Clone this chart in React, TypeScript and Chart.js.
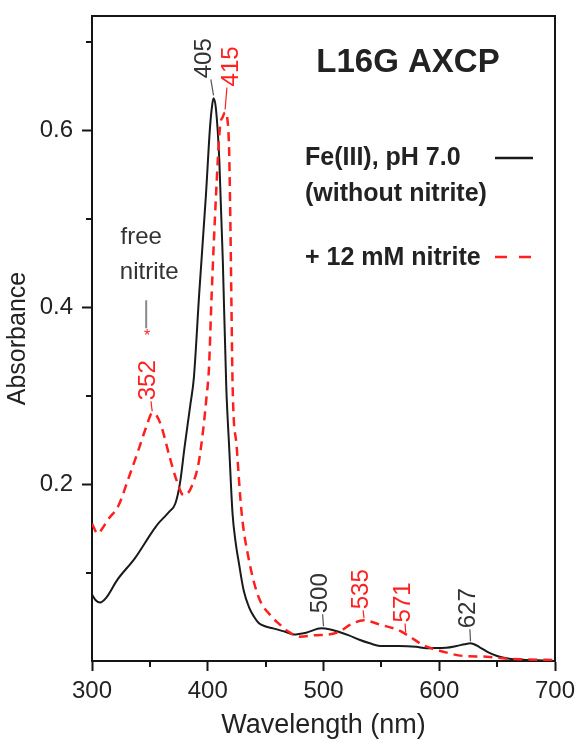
import React, { useEffect, useRef } from 'react';
import { Chart, registerables } from 'chart.js';

Chart.register(...registerables);

const FONT = '"Liberation Sans", Arial, sans-serif';
const AXIS = '#151515';
const TEXT = '#222222';
const RED = '#ff1f1f';
const BLACK = '#1a1a1a';

// Fe(III), pH 7.0 (without nitrite)
const blackWavelengths = [300, 303, 307, 312, 322, 337, 352, 357, 362, 367, 372, 376, 380, 385, 388, 392.6, 398.5, 402, 404, 405, 407, 410, 413, 416, 418.5, 421.4, 424, 427, 431, 435.6, 440, 444, 450, 456, 467, 474, 485, 498, 505, 513, 522, 531, 540, 549, 565, 580, 589, 600, 606, 615, 622, 627, 635, 642, 650, 658, 664, 681, 700];
const blackAbsorbance = [0.075, 0.069, 0.066, 0.071, 0.092, 0.116, 0.146, 0.155, 0.162, 0.169, 0.178, 0.201, 0.242, 0.29, 0.32, 0.415, 0.528, 0.604, 0.63, 0.636, 0.625, 0.566, 0.453, 0.31, 0.242, 0.167, 0.135, 0.11, 0.08, 0.061, 0.05, 0.043, 0.039, 0.037, 0.033, 0.03, 0.032, 0.037, 0.036, 0.033, 0.029, 0.024, 0.02, 0.017, 0.017, 0.016, 0.0143, 0.0148, 0.015, 0.017, 0.019, 0.02, 0.0155, 0.01, 0.0057, 0.003, 0.002, 0.001, 0.0];

// + 12 mM nitrite
const redWavelengths = [300, 305, 309, 314, 323, 331, 340, 347, 352, 356, 360, 367, 373, 379, 383, 386, 392, 396, 399, 401, 403.4, 407.2, 410.6, 413, 415, 417, 418.4, 419.5, 420.5, 421.5, 425, 429.3, 435, 443.7, 455.3, 462.5, 470, 480, 491.6, 509, 516, 523.3, 534.8, 549, 564.6, 574.7, 586, 603.5, 620.8, 641, 655, 670, 700];
const redAbsorbance = [0.155, 0.144, 0.15, 0.16, 0.176, 0.2045, 0.238, 0.265, 0.28, 0.277, 0.265, 0.231, 0.2045, 0.1875, 0.19, 0.197, 0.223, 0.261, 0.299, 0.33, 0.415, 0.528, 0.604, 0.615, 0.62, 0.612, 0.58, 0.5, 0.4, 0.31, 0.242, 0.167, 0.118, 0.073, 0.05, 0.041, 0.033, 0.0275, 0.029, 0.031, 0.035, 0.041, 0.046, 0.041, 0.035, 0.0275, 0.018, 0.0105, 0.0057, 0.0049, 0.003, 0.002, 0.001];

const xMajorTicks = [300, 400, 500, 600, 700];
const xMinorTicks = [350, 450, 550, 650];
const yTickLabels = ['0.2', '0.4', '0.6'];
const yMinorTicks = [0.1, 0.3, 0.5, 0.7];

const peakLabels = ['405', '415', '352', '500', '535', '571', '627'];
const peakWavelengths = [405, 415, 352, 500, 535, 571, 627];
const peakAbsorbance = [0.636, 0.62, 0.28, 0.037, 0.046, 0.03, 0.02];
const peakSeries = ['black', 'red', 'red', 'black', 'red', 'red', 'black'];

const chartTitle = 'L16G AXCP';
const legendBlack = ['Fe(III), pH 7.0', '(without nitrite)'];
const legendRed = '+ 12 mM nitrite';
const freeLabel = ['free', 'nitrite'];
const xTitle = 'Wavelength (nm)';
const yTitle = 'Absorbance';

// style offsets (pixels) for each peak label: [dx text, gap from peak to leader start, leader length]
const peakStyle = [
  [-9, 3, 16],
  [6, 3, 22],
  [-4, 2, 10],
  [-3, 2, 12],
  [-3, 2, 8],
  [-2, 2, 9],
  [-2, 2, 12],
];

const overlay = {
  id: 'overlay',
  afterDraw(chart: any) {
    const { ctx, chartArea: a, scales } = chart;
    const x = scales.x;
    const y = scales.y;
    ctx.save();
    // frame (top and right)
    ctx.strokeStyle = AXIS;
    ctx.lineWidth = 2;
    ctx.beginPath();
    ctx.moveTo(a.left, a.top);
    ctx.lineTo(a.right, a.top);
    ctx.lineTo(a.right, a.bottom);
    ctx.stroke();

    // minor ticks
    ctx.lineWidth = 2;
    ctx.beginPath();
    xMinorTicks.forEach((v) => {
      const px = Math.round(x.getPixelForValue(v));
      ctx.moveTo(px, a.bottom);
      ctx.lineTo(px, a.bottom + 6);
    });
    yMinorTicks.forEach((v) => {
      const py = Math.round(y.getPixelForValue(v));
      ctx.moveTo(a.left - 6, py);
      ctx.lineTo(a.left, py);
    });
    ctx.stroke();

    // peak labels
    ctx.font = `24px ${FONT}`;
    peakLabels.forEach((lab, i) => {
      const px = x.getPixelForValue(peakWavelengths[i]);
      const py = y.getPixelForValue(peakAbsorbance[i]);
      const [dx, gap, len] = peakStyle[i];
      const col = peakSeries[i] === 'red' ? RED : '#333333';
      ctx.strokeStyle = peakSeries[i] === 'red' ? RED : '#555555';
      ctx.lineWidth = 1.2;
      ctx.beginPath();
      ctx.moveTo(px, py - gap);
      ctx.lineTo(px + dx * 0.3, py - gap - len);
      ctx.stroke();
      ctx.save();
      ctx.translate(px + dx, py - gap - len - 1);
      ctx.rotate(-Math.PI / 2);
      ctx.fillStyle = col;
      ctx.textAlign = 'left';
      ctx.textBaseline = 'middle';
      ctx.fillText(lab, 0, 0);
      ctx.restore();
    });

    // free nitrite annotation
    const fx = x.getPixelForValue(peakWavelengths[2]);
    const fy = y.getPixelForValue(peakAbsorbance[2]);
    ctx.fillStyle = '#333333';
    ctx.font = `24px ${FONT}`;
    ctx.textAlign = 'center';
    ctx.textBaseline = 'alphabetic';
    ctx.fillText(freeLabel[0], fx - 11, fy - 169);
    ctx.fillText(freeLabel[1], fx - 3, fy - 134);
    ctx.strokeStyle = '#888888';
    ctx.lineWidth = 2;
    ctx.beginPath();
    ctx.moveTo(fx - 6, fy - 113);
    ctx.lineTo(fx - 6, fy - 85);
    ctx.stroke();
    ctx.fillStyle = RED;
    ctx.font = `16px ${FONT}`;
    ctx.fillText('*', fx - 5, fy - 72);

    // title and legend
    ctx.fillStyle = TEXT;
    ctx.textAlign = 'center';
    ctx.font = `bold 33px ${FONT}`;
    ctx.fillText(chartTitle, 408, 72);
    ctx.textAlign = 'left';
    ctx.font = `bold 25px ${FONT}`;
    ctx.fillText(legendBlack[0], 305, 165);
    ctx.fillText(legendBlack[1], 305, 201);
    ctx.fillText(legendRed, 305, 265);
    ctx.strokeStyle = BLACK;
    ctx.lineWidth = 2.5;
    ctx.beginPath();
    ctx.moveTo(495, 158);
    ctx.lineTo(533, 158);
    ctx.stroke();
    ctx.strokeStyle = RED;
    ctx.setLineDash([12, 12]);
    ctx.beginPath();
    ctx.moveTo(495, 257);
    ctx.lineTo(533, 257);
    ctx.stroke();
    ctx.setLineDash([]);
    ctx.restore();
  },
};

export default function App() {
  const ref = useRef<HTMLCanvasElement | null>(null);
  useEffect(() => {
    if (!ref.current) return;
    const chart = new Chart(ref.current, {
      type: 'scatter',
      data: {
        datasets: [
          {
            label: 'Fe(III), pH 7.0 (without nitrite)',
            data: blackWavelengths.map((w, i) => ({ x: w, y: blackAbsorbance[i] })),
            showLine: true,
            borderColor: BLACK,
            borderWidth: 2,
            pointRadius: 0,
            cubicInterpolationMode: 'monotone',
            order: 2,
          },
          {
            label: '+ 12 mM nitrite',
            data: redWavelengths.map((w, i) => ({ x: w, y: redAbsorbance[i] })),
            showLine: true,
            borderColor: RED,
            borderWidth: 2.5,
            borderDash: [9, 6],
            pointRadius: 0,
            cubicInterpolationMode: 'monotone',
            order: 1,
          },
        ],
      },
      options: {
        animation: false,
        responsive: false,
        layout: { padding: { left: 0, right: 27, top: 16, bottom: 0 } },
        plugins: { legend: { display: false }, tooltip: { enabled: false } },
        scales: {
          x: {
            type: 'linear',
            min: 300,
            max: 700,
            afterFit: (s: any) => {
              s.height = 89;
              s.paddingLeft = 0;
              s.paddingRight = 0;
            },
            afterBuildTicks: (s: any) => {
              s.ticks = xMajorTicks.map((v) => ({ value: v }));
            },
            ticks: {
              font: { family: FONT, size: 24 },
              color: TEXT,
              padding: 6,
              maxRotation: 0,
              autoSkip: false,
              callback: (v: any) => String(v),
            },
            grid: {
              display: true,
              drawOnChartArea: false,
              drawTicks: true,
              tickLength: 10,
              tickWidth: 2,
              tickColor: AXIS,
            },
            border: { display: true, color: AXIS, width: 2 },
            title: {
              display: true,
              text: xTitle,
              color: TEXT,
              font: { family: FONT, size: 27 },
              padding: { top: 0, bottom: 8 },
            },
          },
          y: {
            type: 'linear',
            min: 0,
            max: 0.729,
            afterFit: (s: any) => {
              s.width = 92;
              s.paddingTop = 0;
              s.paddingBottom = 0;
            },
            afterBuildTicks: (s: any) => {
              s.ticks = yTickLabels.map((t) => ({ value: parseFloat(t), label: t }));
            },
            ticks: {
              font: { family: FONT, size: 24 },
              color: TEXT,
              padding: 9,
              callback: (v: any) => Number(v).toFixed(1),
            },
            grid: {
              display: true,
              drawOnChartArea: false,
              drawTicks: true,
              tickLength: 10,
              tickWidth: 2,
              tickColor: AXIS,
            },
            border: { display: true, color: AXIS, width: 2 },
            title: {
              display: true,
              text: yTitle,
              color: TEXT,
              font: { family: FONT, size: 25 },
              padding: { top: 3, bottom: 0 },
            },
          },
        },
      },
      plugins: [overlay],
    } as any);
    return () => chart.destroy();
  }, []);
  return (
    <div style={{ position: 'fixed', left: 0, top: 0, width: 582, height: 750, background: '#fff' }}>
      <canvas ref={ref} width={582} height={750} style={{ width: 582, height: 750, display: 'block' }} />
    </div>
  );
}
